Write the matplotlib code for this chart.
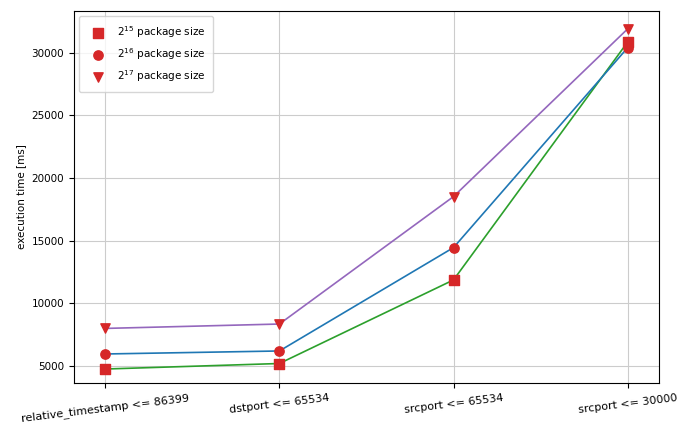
import matplotlib
matplotlib.use("Agg")
import matplotlib.pyplot as plt

# dados
filtros = ["relative_timestamp <= 86399", "dstport <= 65534",
           "srcport <= 65534", "srcport <= 30000"]
tempo_15 = [4760, 5200, 11870, 30850]
tempo_16 = [5960, 6200, 14450, 30400]
tempo_17 = [8000, 8350, 18520, 31900]

x = list(range(len(filtros)))

fig, ax = plt.subplots(figsize=(6.78, 4.28), dpi=100)

ax.plot(x, tempo_15, color="tab:green", lw=1.2, zorder=2)
ax.plot(x, tempo_16, color="tab:blue", lw=1.2, zorder=2)
ax.plot(x, tempo_17, color="tab:purple", lw=1.2, zorder=2)

ax.scatter(x, tempo_15, marker="s", color="tab:red", s=45, zorder=3, label=r"$2^{15}$ package size")
ax.scatter(x, tempo_16, marker="o", color="tab:red", s=45, zorder=3, label=r"$2^{16}$ package size")
ax.scatter(x, tempo_17, marker="v", color="tab:red", s=45, zorder=3, label=r"$2^{17}$ package size")

ax.set_xticks(x)
ax.set_xticklabels(filtros, rotation=7, fontsize=8)
ax.tick_params(axis="y", labelsize=7.5)
ax.set_ylabel("execution time [ms]", fontsize=7.5)
ax.set_xlim(-0.18, 3.18)
ax.set_ylim(3640, 33350)
ax.grid(True, color="#cccccc", lw=0.8)
ax.legend(loc="upper left", fontsize=7.5, borderpad=0.8, labelspacing=0.6)

plt.subplots_adjust(left=0.109, right=0.972, top=0.975, bottom=0.105)
fig.savefig("out.png")
